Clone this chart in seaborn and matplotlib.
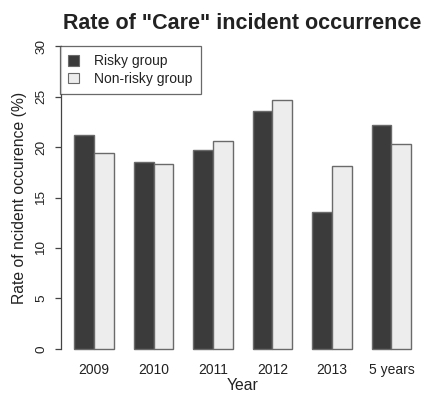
import matplotlib
matplotlib.use("Agg")
import matplotlib.pyplot as plt
from matplotlib.patches import Patch
import seaborn as sns
import pandas as pd

# Incident rates (%) per year for each group
years = ["2009", "2010", "2011", "2012", "2013", "5 years"]
risky = [21.2, 18.5, 19.7, 23.6, 13.6, 22.2]
non_risky = [19.4, 18.3, 20.6, 24.7, 18.1, 20.3]
groups = ["Risky group", "Non-risky group"]
yticks = [0, 5, 10, 15, 20, 25, 30]

df = pd.DataFrame({
    "Year": years * 2,
    "Rate": risky + non_risky,
    "Group": [groups[0]] * len(years) + [groups[1]] * len(years),
})

sns.set_style("white")
plt.rcParams["font.family"] = ["Liberation Sans", "DejaVu Sans"]

dark = "#3b3b3b"
light = "#ededed"
edge = "#6a6a6a"

fig = plt.figure(figsize=(4.25, 3.93), dpi=100)
ax = fig.add_axes([61 / 425, 1 - 361 / 393, 363.5 / 425, 327 / 393])

sns.barplot(data=df, x="Year", y="Rate", hue="Group", order=years,
            hue_order=groups, palette=[dark, light], width=0.67, gap=0,
            edgecolor=edge, linewidth=1.0, saturation=1, legend=False, ax=ax)

ax.set_xlim(-0.555, 5.555)
ax.set_ylim(-1.2, 31.2)
ax.set_yticks(yticks)
ax.set_yticklabels([str(t) for t in yticks], rotation=90, va="center")

for s in ["top", "right", "bottom"]:
    ax.spines[s].set_visible(False)
ax.spines["left"].set_bounds(0, 30)
ax.spines["left"].set_color("#444444")
ax.spines["left"].set_linewidth(0.9)

ax.tick_params(axis="y", length=4.3, width=0.9, color="#444444",
               pad=5.5, labelsize=9.7, labelcolor="#222222", left=True)
ax.tick_params(axis="x", length=0, pad=1.2, labelsize=10,
               labelcolor="#222222")

ax.set_xlabel("Year", fontsize=11.3, color="#222222", labelpad=0.8)
ax.set_ylabel("Rate of ncident occurence (%)", fontsize=11.3,
              color="#222222")
ax.yaxis.set_label_coords(-0.093, 0.5)

fig.text(0.571, 1 - 29 / 393, 'Rate of "Care" incident occurrence',
         ha="center", va="baseline", fontsize=15.5, fontweight="bold",
         color="#222222")

handles = [Patch(facecolor=dark, edgecolor=edge, linewidth=0.8),
           Patch(facecolor=light, edgecolor=edge, linewidth=0.8)]
leg = ax.legend(handles, groups, loc="upper left",
                bbox_to_anchor=(60 / 425, 1 - 46 / 393),
                bbox_transform=fig.transFigure, borderaxespad=0,
                fancybox=False, frameon=True, fontsize=10,
                handlelength=0.75, handleheight=0.75, handletextpad=1.1,
                labelspacing=0.25, borderpad=0.6)
leg.get_frame().set_edgecolor("#444444")
leg.get_frame().set_linewidth(0.9)
for t in leg.get_texts():
    t.set_color("#222222")

fig.savefig("out.png", dpi=100, facecolor="white")
